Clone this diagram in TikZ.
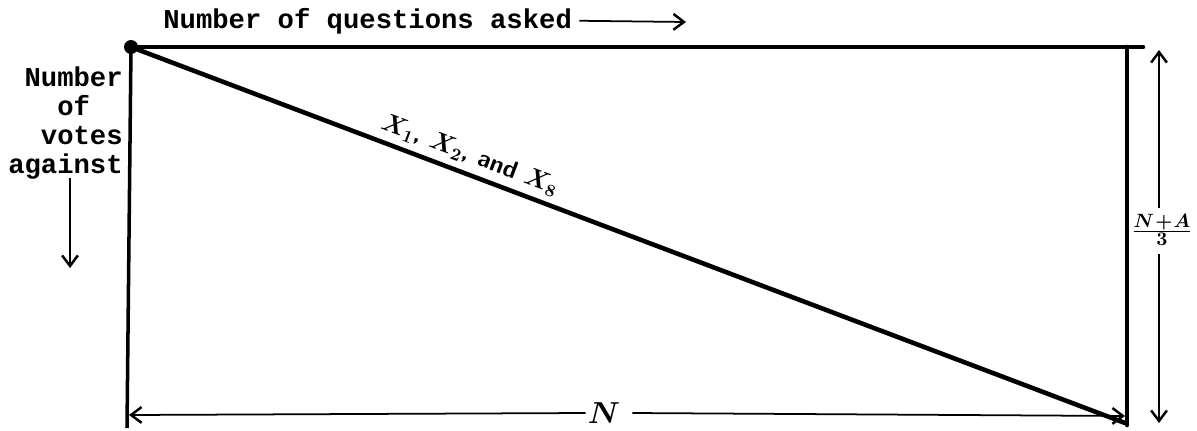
\documentclass[tikz,border=0pt]{standalone}
\usepackage{amsmath,amssymb}
\usepackage{fontspec}
\setmonofont{Liberation Mono}
\usepackage{tikz}
\usetikzlibrary{arrows.meta, positioning, calc}
\tikzstyle{frame} = [line width=2.6pt, line cap=round]
\tikzstyle{thinframe} = [line width=2pt]
\tikzstyle{arrow} = [line width=1pt, -{Straight Barb[length=6pt, width=9pt, line width=1.4pt]}]
\tikzstyle{typed} = [inner sep=0pt, font=\ttfamily\bfseries\fontsize{15.5}{16.5}\selectfont]
\tikzstyle{hand} = [inner sep=1pt, font=\sffamily\bfseries\fontsize{14}{15}\selectfont]

\begin{document}
\begin{tikzpicture}[x=0.02cm, y=-0.02cm]
  \useasboundingbox (0,0) rectangle (1197,430);
  % corners of the box
  \coordinate (tl) at (131,47);
  \coordinate (tr) at (1143,47);
  \coordinate (rt) at (1127,47);
  \coordinate (rb) at (1127,425);
  \coordinate (lb) at (127,428);
  \coordinate (end) at (1125,423);

  \draw[frame](tl)--(tr);
  \draw[thinframe](tl)--(lb);
  \draw[frame](rt)--(rb);
  \draw[frame](tl)--(end);
  \fill (tl) circle (7);

  % axis labels
  \node[typed, anchor=base west](qs) at (163,28){Number of questions asked};
  \coordinate (qsend) at (686,22);
  \draw[arrow]($(qs.east)+(4pt,0)$)--(qsend);

  \node[typed, anchor=north east, align=right](votes) at (123,66){Number\\of\hphantom{xx}\\votes\\against};
  \coordinate (vtop) at (70,178);
  \coordinate (vbot) at (70,268);
  \draw[arrow](vtop)--(vbot);

  % diagonal label
  \node[hand, rotate=-20.7](xs) at (470,155){$\boldsymbol{X_1}$,\ $\boldsymbol{X_2}$,\ and $\boldsymbol{X_8}$};

  % dimension N
  \node[hand, font=\sffamily\bfseries\fontsize{16}{16}\selectfont](n) at (604,413){$\boldsymbol{N}$};
  \coordinate (nl) at (129,415);
  \coordinate (nr) at (1125,416);
  \draw[arrow](n.west)--(nl);
  \draw[arrow]($(n.east)+(10,0)$)--(nr);

  % dimension (N+A)/3
  \node[hand, inner sep=0pt, font=\fontsize{11}{12}\selectfont\boldmath](h) at (1162,230){$\frac{\textstyle N\!+\!A}{\textstyle 3}$};
  \coordinate (ht) at (1159,50);
  \coordinate (hb) at (1159,423);
  \draw[arrow]($(h.north)+(-3,-6)$)--(ht);
  \draw[arrow]($(h.south)+(-3,8)$)--(hb);
\end{tikzpicture}
\end{document}
